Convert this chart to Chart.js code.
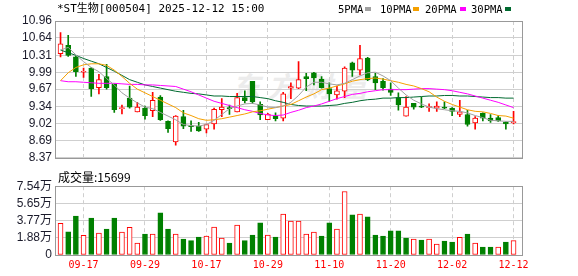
<!DOCTYPE html>
<html>
<head>
<meta charset="utf-8">
<title>*ST生物 日K</title>
<script src="https://cdn.jsdelivr.net/npm/chart.js@4.4.1/dist/chart.umd.min.js"></script>
<style>
  html, body { margin: 0; padding: 0; background: #fff; }
  #wrap { position: relative; width: 578px; height: 276px; overflow: hidden; }
  #wrap canvas { position: absolute; left: 0; }
  #mainCanvas { top: 0; }
  #volCanvas { top: 176px; }
  .txt { position: absolute; white-space: nowrap; color: #000; font-family: 'DejaVu Sans Mono', 'Noto Sans CJK SC', monospace; }
  #title { left: 57px; top: 2px; font-size: 11px; line-height: 14px; }
  .leg { top: 2px; font-size: 10.5px; line-height: 14px; }
  .sw { position: absolute; top: 7px; width: 6px; height: 4px; }
  #volTitle { left: 58px; top: 170px; font-size: 12px; line-height: 14px; font-family: 'Noto Sans CJK SC', sans-serif; }
  #mark { left: 232px; top: 71px; font-size: 28px; line-height: 28px; letter-spacing: 8px; font-weight: bold; font-style: italic; color: #ececec; font-family: 'Noto Sans CJK SC', sans-serif; }
</style>
</head>
<body>
<div id="wrap">
  <div class="txt" id="mark">东方财富</div>
  <canvas id="mainCanvas" width="578" height="168"></canvas>
  <canvas id="volCanvas" width="578" height="100"></canvas>
  <div class="txt" id="title">*ST生物[000504] 2025-12-12 15:00</div>
  <div class="txt leg" style="left:338px">5PMA</div><div class="sw" style="left:365px;background:#a0a0a0"></div>
  <div class="txt leg" style="left:380px">10PMA</div><div class="sw" style="left:413px;background:#f5a000"></div>
  <div class="txt leg" style="left:425px">20PMA</div><div class="sw" style="left:460px;background:#ff00ff"></div>
  <div class="txt leg" style="left:471px">30PMA</div><div class="sw" style="left:505px;background:#006a30"></div>
  <div class="txt" id="volTitle"></div>
</div>
<script>
// trading days shown, one candle each
const dates = ['09-12','09-15','09-16','09-17','09-18','09-19','09-22','09-23','09-24','09-25','09-26','09-29','09-30',
  '10-09','10-10','10-13','10-14','10-15','10-16','10-17','10-20','10-21','10-22','10-23','10-24','10-27','10-28','10-29','10-30','10-31',
  '11-03','11-04','11-05','11-06','11-07','11-10','11-11','11-12','11-13','11-14','11-17','11-18','11-19','11-20','11-21','11-24','11-25','11-26','11-27','11-28',
  '12-01','12-02','12-03','12-04','12-05','12-08','12-09','12-10','12-11','12-12'];
const tickDates = ['09-17','09-29','10-17','10-29','11-10','11-20','12-02','12-12'];
const priceTicks = ['10.96','10.64','10.31','9.99','9.67','9.34','9.02','8.69','8.37'];
const volTicks = ['0','1.88万','3.77万','5.65万','7.54万'];

const openP = [10.34,10.50,10.28,9.99,10.07,9.70,9.91,9.76,9.30,9.50, 9.24,9.31,9.26,9.52,9.06,8.67,9.15,8.98,8.97,8.91,
  9.01,9.28,9.31,9.24,9.51,9.82,9.38,9.09,9.16,9.12, 9.69,9.69,9.91,9.98,9.86,9.68,9.56,9.63,10.17,10.03,
  10.26,9.91,9.82,9.67,9.51,9.16,9.40,9.34,9.32,9.31, 9.32,9.31,9.19,9.19,9.03,9.21,9.12,9.13,9.04,9.035];
const highP = [10.74,10.69,10.29,10.07,10.08,9.95,10.14,9.77,9.37,9.73, 9.42,9.35,9.61,9.55,9.07,9.17,9.27,9.07,9.04,9.01,
  9.31,9.49,9.37,9.59,9.64,9.82,9.43,9.21,9.22,9.61, 9.79,10.19,9.97,9.99,9.91,9.79,9.73,10.09,10.18,10.50,
  10.27,9.97,9.87,9.79,9.60,9.53,9.40,9.52,9.39,9.43, 9.43,9.32,9.46,9.27,9.15,9.22,9.19,9.17,9.05,9.25];
const lowP = [10.28,10.29,9.91,9.89,9.53,9.58,9.67,9.23,9.20,9.31, 9.24,9.10,9.15,9.08,8.85,8.61,8.92,8.87,8.87,8.84,
  8.91,9.15,9.19,9.24,9.41,9.40,9.09,9.09,9.07,9.07, 9.49,9.68,9.64,9.75,9.69,9.44,9.48,9.51,9.91,9.94,
  9.83,9.66,9.65,9.55,9.27,9.16,9.29,9.32,9.25,9.25, 9.30,9.17,9.15,8.97,8.91,9.07,9.04,9.06,8.91,9.01];
const closeP = [10.53,10.31,10.00,10.00,9.68,9.85,9.70,9.28,9.31,9.33, 9.33,9.17,9.46,9.09,8.92,9.16,8.97,8.96,8.88,9.00,
  9.29,9.33,9.30,9.51,9.45,9.43,9.18,9.20,9.11,9.58, 9.72,9.85,9.87,9.88,9.70,9.58,9.64,10.07,10.03,10.25,
  9.85,9.79,9.70,9.61,9.37,9.33,9.33,9.33,9.335,9.35, 9.31,9.25,9.24,9.00,9.12,9.12,9.07,9.07,9.01,9.045];

const ma5 = [10.41,10.46,10.32,10.19,10.08,10.00,9.87,9.75,9.60,9.50, 9.41,9.33,9.30,9.23,9.16,9.09,9.00,8.98,8.97,9.00,
  9.08,9.19,9.30,9.35,9.39,9.40,9.37,9.33,9.32,9.35, 9.42,9.55,9.71,9.80,9.80,9.77,9.75,9.78,9.85,9.92,
  9.98,9.99,9.92,9.83,9.69,9.56,9.46,9.39,9.33,9.30, 9.28,9.26,9.25,9.22,9.17,9.13,9.08,9.07,9.06,9.06];
const ma10 = [9.83,9.98,10.08,10.13,10.15,10.15,10.12,10.03,9.91,9.78, 9.67,9.60,9.53,9.46,9.39,9.32,9.22,9.17,9.11,9.08,
  9.09,9.11,9.14,9.17,9.20,9.24,9.26,9.29,9.32,9.35, 9.38,9.45,9.52,9.58,9.66,9.69,9.73,9.77,9.82,9.85,
  9.87,9.88,9.86,9.83,9.80,9.76,9.73,9.68,9.62,9.52, 9.44,9.38,9.33,9.28,9.25,9.24,9.21,9.17,9.16,9.12];
const ma20 = [9.83,9.81,9.81,9.80,9.79,9.78,9.78,9.78,9.77,9.76, 9.76,9.75,9.75,9.74,9.73,9.72,9.67,9.62,9.56,9.50,
  9.44,9.40,9.36,9.32,9.28,9.25,9.21,9.18,9.17,9.18, 9.23,9.27,9.32,9.35,9.39,9.44,9.49,9.53,9.57,9.59,
  9.62,9.64,9.66,9.66,9.66,9.66,9.67,9.68,9.68,9.67, 9.66,9.64,9.61,9.58,9.54,9.50,9.46,9.42,9.37,9.32];
const ma30 = [10.41,10.36,10.31,10.25,10.20,10.15,10.08,10.01,9.93,9.85, 9.80,9.75,9.72,9.69,9.66,9.63,9.61,9.59,9.58,9.56,
  9.54,9.54,9.53,9.53,9.53,9.53,9.51,9.49,9.45,9.42, 9.38,9.36,9.35,9.35,9.35,9.36,9.37,9.40,9.42,9.45,
  9.47,9.48,9.50,9.50,9.51,9.51,9.52,9.53,9.54,9.54, 9.55,9.55,9.54,9.54,9.53,9.52,9.51,9.51,9.50,9.50];

const volume = [34600,25500,42600,21500,40400,24000,28400,40400,25100,30200, 13100,22900,22900,46200,28400,22900,17500,15700,19700,20800,
  30600,18600,13100,32800,15700,21900,35300,21900,19700,44800, 37200,37200,22900,25100,20800,35300,28400,69600,44000,44800,
  41900,21900,20800,26600,26600,18600,17500,16400,17500,12000, 15300,14200,19300,22900,13100,8700,8700,8700,14200,15699];
// 1 = close above previous close (red), 0 = below (green)
const volUp = [1,0,0,1,0,1,0,0,1,1, 1,0,1,0,0,1,0,0,0,1, 1,1,0,1,0,0,0,1,0,1,
  1,1,1,1,0,0,1,1,0,1, 0,0,0,0,0,0,1,0,1,1, 0,0,1,0,1,0,0,1,0,1];

const UP = '#ff0000';
const DOWN = '#008000';
const idx = dates.map((d, i) => i);
const tickIdx = tickDates.map(d => dates.indexOf(d));
const isUp = closeP.map((c, i) => c >= openP[i]);
const axisFont = { family: "'Liberation Sans', 'Noto Sans CJK SC', sans-serif", size: 12 };

document.getElementById('volTitle').textContent = '成交量:' + volume[volume.length - 1];

// grey frame around each plot area
const frame = {
    id: 'frame',
    afterDraw(chart) {
        const { ctx, chartArea: a } = chart;
        ctx.save();
        ctx.strokeStyle = '#999';
        ctx.lineWidth = 1;
        ctx.strokeRect(Math.round(a.left) + 0.5, Math.round(a.top) + 0.5, Math.round(a.right - a.left), Math.round(a.bottom - a.top));
        ctx.restore();
    }
};

function xScale(extra) {
    return {
        type: 'linear',
        min: -0.72,
        max: 60.1,
        offset: false,
        afterBuildTicks: s => { s.ticks = tickIdx.map(v => ({ value: v })); },
        grid: { color: '#cfcfcf', drawTicks: false, offset: false },
        border: { display: false, dash: [4, 3] },
        ...extra
    };
}

function maLine(values, color) {
    return {
        type: 'line',
        data: values,
        borderColor: color,
        borderWidth: 1,
        pointRadius: 0,
        fill: false,
        tension: 0
    };
}

new Chart(document.getElementById('mainCanvas'), {
    type: 'bar',
    data: {
        labels: idx,
        datasets: [
            maLine(ma5, '#a0a0a0'),
            maLine(ma10, '#f5a000'),
            maLine(ma20, '#ff00ff'),
            maLine(ma30, '#006a30'),
            {
                data: openP.map((o, i) => [o, closeP[i]]),
                backgroundColor: isUp.map(u => u ? '#fff' : DOWN),
                borderColor: isUp.map(u => u ? UP : DOWN),
                borderWidth: 1,
                borderSkipped: false,
                barThickness: 5,
                minBarLength: 1,
                grouped: false
            },
            {
                data: lowP.map((l, i) => [l, highP[i]]),
                backgroundColor: isUp.map(u => u ? UP : DOWN),
                barThickness: 1,
                grouped: false
            }
        ]
    },
    options: {
        responsive: false,
        animation: false,
        layout: { padding: { top: 21, right: 56, bottom: 2, left: 0 } },
        plugins: { legend: { display: false }, tooltip: { enabled: false } },
        scales: {
            x: xScale({
                ticks: { display: false },
                afterFit: s => { s.height = 0; }
            }),
            y: {
                min: 8.37,
                max: 10.96,
                afterBuildTicks: s => {
                    s.ticks = priceTicks.map(Number).sort((a, b) => a - b).map(v => ({ value: v }));
                },
                afterFit: s => { s.width = 55; },
                ticks: { callback: v => v.toFixed(2), color: '#1a1a2a', font: axisFont, padding: 3, autoSkip: false },
                grid: { color: '#cfcfcf', drawTicks: false },
                border: { display: false }
            }
        }
    },
    plugins: [frame]
});

new Chart(document.getElementById('volCanvas'), {
    type: 'bar',
    data: {
        labels: idx,
        datasets: [{
            data: volume,
            backgroundColor: volUp.map(u => u ? '#fff' : DOWN),
            borderColor: volUp.map(u => u ? UP : DOWN),
            borderWidth: 1,
            borderSkipped: false,
            barThickness: 5
        }]
    },
    options: {
        responsive: false,
        animation: false,
        layout: { padding: { top: 10, right: 56, bottom: 0, left: 0 } },
        plugins: { legend: { display: false }, tooltip: { enabled: false } },
        scales: {
            x: xScale({
                ticks: {
                    callback: v => dates[v],
                    color: '#ff0000',
                    font: { family: "'DejaVu Sans Mono', monospace", size: 10 },
                    padding: 4,
                    autoSkip: false,
                    maxRotation: 0
                },
                afterFit: s => { s.height = 21; }
            }),
            y: {
                min: 0,
                max: 75400,
                afterBuildTicks: s => { s.ticks = volTicks.map(t => ({ value: parseFloat(t) * 10000 })); },
                afterFit: s => { s.width = 55; },
                ticks: { callback: (v, i) => volTicks[i], color: '#1a1a2a', font: axisFont, padding: 3, autoSkip: false },
                grid: { color: '#cfcfcf', drawTicks: false },
                border: { display: false }
            }
        }
    },
    plugins: [frame]
});
</script>
</body>
</html>
